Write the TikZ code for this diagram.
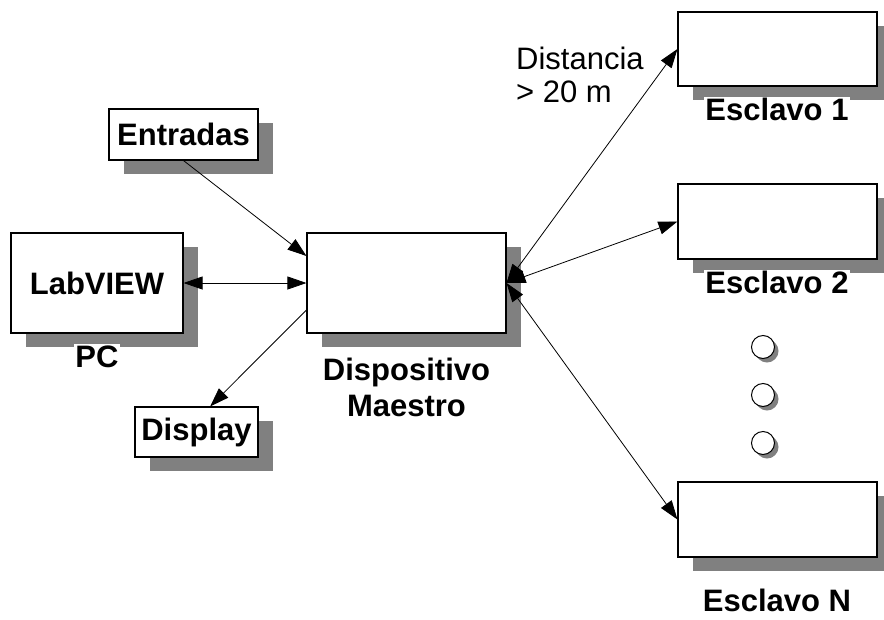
\documentclass[tikz,border=0pt]{standalone}
\usepackage{fontspec}
\setmainfont{Liberation Sans}
\usetikzlibrary{arrows.meta,shadows,calc}
\definecolor{shadowgray}{HTML}{808080}
\begin{document}
\begin{tikzpicture}[x=1pt,y=-1pt,
  box/.style={draw=black, line width=1.1pt, fill=white, rectangle, inner sep=0pt,
    general shadow={fill=shadowgray, shadow xshift=15pt, shadow yshift=-14pt},
    font=\fontsize{31}{36}\selectfont\bfseries},
  lbl/.style={font=\fontsize{31}{36}\selectfont\bfseries, inner sep=1pt, fill=white, align=center},
  dot/.style={draw=black, line width=1pt, fill=white, circle, minimum size=23pt, inner sep=0pt,
    general shadow={fill=shadowgray, shadow xshift=4pt, shadow yshift=-4pt}},
  link/.style={line width=0.8pt, -{Triangle[length=19pt,width=13pt]}},
  dlink/.style={line width=0.8pt, {Triangle[length=19pt,width=13pt]}-{Triangle[length=19pt,width=13pt]}}
]
\useasboundingbox (0,0) rectangle (884,619);
\fill[white] (0,0) rectangle (884,619);
% boxes
\node[box, minimum width=149pt, minimum height=51pt] (ent) at (183.5,134.5) {Entradas};
\node[box, minimum width=172pt, minimum height=100pt] (lab) at (97,283) {LabVIEW};
\node[box, minimum width=199pt, minimum height=100pt] (mae) at (406.5,283) {};
\node[box, minimum width=123pt, minimum height=50pt] (disp) at (196.5,432) {Display};
\node[box, minimum width=199pt, minimum height=74pt] (e1) at (777.5,49) {};
\node[box, minimum width=199pt, minimum height=75pt] (e2) at (777.5,221.5) {};
\node[box, minimum width=199pt, minimum height=75pt] (eN) at (777.5,519.5) {};
% labels
\node[lbl, anchor=base] (pc) at (97,367) {PC};
\node[lbl, anchor=base] (maelbl) at (406.5,416) {Dispositivo\\Maestro};
\node[lbl, anchor=base] (e1lbl) at (777,120) {Esclavo 1};
\node[lbl, anchor=base] (e2lbl) at (777,293) {Esclavo 2};
\node[lbl, anchor=base, fill=none] (eNlbl) at (777,611) {Esclavo N};
\node[font=\fontsize{31}{33}\selectfont, anchor=base west, align=left, inner sep=0pt] (dist) at (516,102) {Distancia\\{>} 20 m};
% dots
\node[dot] (d1) at (763,347) {};
\node[dot] (d2) at (763,395) {};
\node[dot] (d3) at (763,443) {};
% connectors
\draw[link] (ent.south) -- ($(mae.west)+(0,-27)$);
\draw[dlink] (lab.east) -- (mae.west);
\draw[link] ($(mae.west)+(0,27)$) -- ($(disp.north west)!0.61!(disp.north east)$);
\draw[dlink] (mae.east) -- (e1.west);
\draw[dlink] (mae.east) -- (e2.west);
\draw[dlink] (mae.east) -- (eN.west);
\end{tikzpicture}
\end{document}
